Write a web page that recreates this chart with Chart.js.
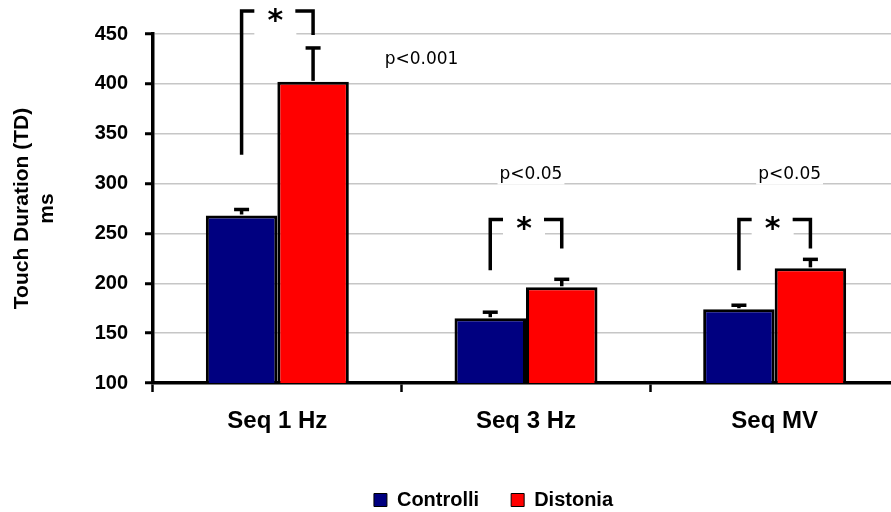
<!DOCTYPE html>
<html><head><meta charset="utf-8">
<script src="https://cdn.jsdelivr.net/npm/chart.js@4/dist/chart.umd.min.js"></script>
<style>html,body{margin:0;padding:0;background:#fff;overflow:hidden;width:891px;height:512px}canvas{display:block}</style>
</head><body><canvas id="c" width="900" height="512"></canvas>
<script>
const categories = ['Seq 1 Hz', 'Seq 3 Hz', 'Seq MV'];
const seriesNames = ['Controlli', 'Distonia'];
const controlli = [268, 165, 174];
const distonia = [402, 196, 215];
const errControlli = [6, 6, 4];
const errDistonia = [34, 8, 9];
const yTicks = [100, 150, 200, 250, 300, 350, 400, 450];
const pLabels = ['p<0.001', 'p<0.05', 'p<0.05'];
const pLabelValue = [424, 309, 309];
const bracketTop = [473, 264, 264];
const bracketLeftFrom = [329, 213, 213];
const bracketRightTo = [449, 235, 235];

const FONT = '"Liberation Sans", Arial, sans-serif';
const annotCfg = { pOffset: [0.58, 0.02, 0.06] };

const annot = {
  id: 'annot',
  afterDatasetsDraw(chart) {
    const ctx = chart.ctx, y = chart.scales.y, x = chart.scales.x;
    const m0 = chart.getDatasetMeta(0), m1 = chart.getDatasetMeta(1);
    ctx.save();
    ctx.strokeStyle = '#000';
    ctx.lineCap = 'butt';
    ctx.lineJoin = 'miter';
    // error bars
    [[m0, controlli, errControlli], [m1, distonia, errDistonia]].forEach(([m, vals, errs]) => {
      m.data.forEach((bar, i) => {
        const top = y.getPixelForValue(vals[i]);
        const cap = y.getPixelForValue(vals[i] + errs[i]);
        ctx.lineWidth = 3.5;
        ctx.beginPath(); ctx.moveTo(bar.x, top - 1); ctx.lineTo(bar.x, cap); ctx.stroke();
        ctx.beginPath(); ctx.moveTo(bar.x - 7.5, cap); ctx.lineTo(bar.x + 7.5, cap); ctx.stroke();
      });
    });
    // significance brackets
    categories.forEach((c, i) => {
      const xl = m0.data[i].x, xr = m1.data[i].x, mid = (xl + xr) / 2 - 2;
      const yt = y.getPixelForValue(bracketTop[i]);
      const yl = y.getPixelForValue(bracketLeftFrom[i]);
      const yr = y.getPixelForValue(bracketRightTo[i]);
      ctx.fillStyle = '#fff';
      ctx.fillRect(mid - 21, yt - 8, 42, 32);
      ctx.lineWidth = 3.5;
      ctx.beginPath(); ctx.moveTo(xl, yl); ctx.lineTo(xl, yt); ctx.lineTo(mid - 21, yt); ctx.stroke();
      ctx.beginPath(); ctx.moveTo(mid + 20, yt); ctx.lineTo(xr, yt); ctx.lineTo(xr, yr); ctx.stroke();
      ctx.fillStyle = '#000';
      ctx.font = 'bold 30px "DejaVu Sans"';
      ctx.textAlign = 'center';
      ctx.textBaseline = 'alphabetic';
      ctx.fillText('*', mid, yt + 19);
    });
    // p-value labels
    ctx.font = '17px "DejaVu Sans"';
    ctx.textAlign = 'center';
    ctx.textBaseline = 'middle';
    pLabels.forEach((t, i) => {
      const px = x.getPixelForValue(i + annotCfg.pOffset[i]);
      const py = y.getPixelForValue(pLabelValue[i]);
      const w = ctx.measureText(t).width;
      ctx.fillStyle = '#fff';
      ctx.fillRect(px - w / 2 - 2, py - 10, w + 4, 20);
      ctx.fillStyle = '#000';
      ctx.fillText(t, px, py);
    });
    ctx.restore();
  }
};

new Chart(document.getElementById('c'), {
  type: 'bar',
  data: {
    labels: categories,
    datasets: [
      { label: seriesNames[0], data: controlli, backgroundColor: '#000080', borderColor: '#000', borderWidth: 3, borderSkipped: false, categoryPercentage: 0.575, barPercentage: 1 },
      { label: seriesNames[1], data: distonia, backgroundColor: '#ff0000', borderColor: '#000', borderWidth: 3, borderSkipped: false, categoryPercentage: 0.575, barPercentage: 1 }
    ]
  },
  options: {
    responsive: false,
    animation: false,
    devicePixelRatio: 1,
    layout: { padding: { left: 88, right: 1, top: 34, bottom: 0 } },
    plugins: {
      legend: {
        position: 'bottom',
        maxHeight: 54,
        labels: {
          boxWidth: 13, boxHeight: 13, padding: 32, color: '#000',
          font: { family: FONT, size: 20, weight: 'bold' },
          generateLabels(chart) {
            return Chart.defaults.plugins.legend.labels.generateLabels(chart).map(l => Object.assign(l, { lineWidth: 1 }));
          }
        }
      },
      tooltip: { enabled: false }
    },
    scales: {
      x: {
        grid: { drawOnChartArea: false, drawTicks: true, tickLength: 9, tickColor: '#000', tickWidth: 2.5, offset: true },
        border: { color: '#000', width: 3.5 },
        ticks: { color: '#000', padding: 15, font: { family: FONT, size: 24, weight: 'bold' } },
        afterFit(s) { s.height = 75; }
      },
      y: {
        min: 100, max: 450,
        afterBuildTicks(s) { s.ticks = yTicks.map(v => ({ value: v })); },
        ticks: { color: '#000', padding: 17, font: { family: FONT, size: 20, weight: 'bold' } },
        grid: { color: '#c6c6c6', lineWidth: 1.5, tickLength: 8, tickColor: '#000', tickWidth: 3 },
        border: { color: '#000', width: 3.5 },
        title: { display: true, text: ['Touch Duration (TD)', 'ms'], color: '#000', font: { family: FONT, size: 21, weight: 'bold' }, padding: { top: -78.6, bottom: 0 } },
        afterFit(s) { s.width = 65; }
      }
    }
  },
  plugins: [annot]
});
</script>
</body></html>
